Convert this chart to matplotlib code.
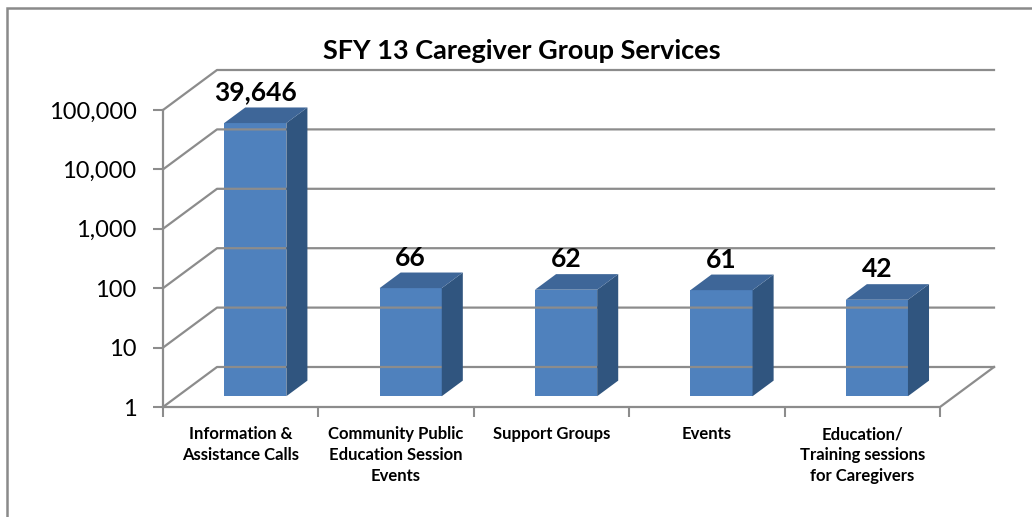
import numpy as np
import matplotlib
matplotlib.use("Agg")
import matplotlib.pyplot as plt
from matplotlib.patches import Polygon, Rectangle
from matplotlib.transforms import offset_copy

plt.rcParams["font.family"] = ["Lato", "DejaVu Sans"]

categories = [
    "Information &\nAssistance Calls",
    "Community Public\nEducation Session\nEvents",
    "Support Groups",
    "Events",
    "Education/\nTraining sessions\nfor Caregivers",
]
values = [39646, 66, 62, 61, 42]
value_labels = ["39,646", "66", "62", "61", "42"]
y_ticks = [1, 10, 100, 1000, 10000, 100000]
y_tick_labels = ["1", "10", "100", "1,000", "10,000", "100,000"]
title = "SFY 13 Caregiver Group Services"

W, H = 1032, 517
fig = plt.figure(figsize=(W / 100, H / 100), dpi=100)

# front plane of the 3D box, in pixels
left, right, bottom, top = 163, 940, 407, 110
ax = fig.add_axes([left / W, 1 - bottom / H, (right - left) / W, (bottom - top) / H])
ax.set_yscale("log")
ax.set_xlim(0, len(categories))
ax.set_ylim(1, 100000)
ax.patch.set_visible(False)
for s in ax.spines.values():
    s.set_visible(False)

DX, DY = 54, 40          # depth offset of back wall (pixels)
F0, F1 = 0.27, 0.66      # bar front / back depth fraction
grid_c = "#8c8c8c"
front_c, top_c, side_c = "#4f81bd", "#3e6698", "#30557f"

to_fig = fig.transFigure.inverted()


def proj(x, y, d):
    px, py = ax.transData.transform((x, y))
    return to_fig.transform((px + d * DX, py + d * DY))


def line3d(pts, **kw):
    xy = np.array([proj(*p) for p in pts])
    fig.add_artist(plt.Line2D(xy[:, 0], xy[:, 1], transform=fig.transFigure, **kw))


n = len(categories)
lw = 1.6
# back wall gridlines + left wall diagonals
for yv in y_ticks:
    line3d([(0, yv, 0), (0, yv, 1), (n, yv, 1)], color=grid_c, lw=lw, zorder=1)
# floor
line3d([(0, 1, 0), (n, 1, 0), (n, 1, 1)], color=grid_c, lw=lw, zorder=1)
# front vertical axis
line3d([(0, 1, 0), (0, 100000, 0)], color=grid_c, lw=lw, zorder=1)

# ticks
ax.set_yticks(y_ticks)
ax.set_yticklabels(y_tick_labels, fontsize=17)
ax.yaxis.set_minor_locator(matplotlib.ticker.NullLocator())
ax.tick_params(axis="y", length=7, width=1.5, color=grid_c, pad=12)
ax.set_xticks(np.arange(n + 1))
ax.set_xticklabels([])
ax.tick_params(axis="x", length=7, width=1.5, color=grid_c)
ax.set_xticks(np.arange(n) + 0.5, minor=True)
ax.set_xticklabels(categories, minor=True, fontsize=12, fontweight="bold",
                   linespacing=1.35, va="top")
ax.tick_params(axis="x", which="minor", length=0, pad=14)

# bars
bw = 0.4
x = np.arange(n) + 0.5
front_tr = offset_copy(ax.transData, fig=fig, x=F0 * DX, y=F0 * DY, units="dots")
for xi, v, lab in zip(x, values, value_labels):
    x0, x1 = xi - bw / 2, xi + bw / 2
    top_face = [proj(x0, v, F0), proj(x1, v, F0), proj(x1, v, F1), proj(x0, v, F1)]
    side_face = [proj(x1, 1, F0), proj(x1, v, F0), proj(x1, v, F1), proj(x1, 1, F1)]
    fig.add_artist(Polygon(side_face, closed=True, facecolor=side_c, edgecolor="none",
                           transform=fig.transFigure, zorder=3))
    fig.add_artist(Polygon(top_face, closed=True, facecolor=top_c, edgecolor="none",
                           transform=fig.transFigure, zorder=3))
    ax.bar(xi, v - 1, bottom=1, width=bw, color=front_c, transform=front_tr,
           zorder=4, clip_on=False)
    lx, ly = proj(xi, v, F0)
    _, ly2 = proj(xi, v, F1)
    fig.text(lx, ly2 + 3 / H, lab, ha="center", va="bottom", fontsize=19,
             fontweight="bold", zorder=5)

fig.text(522 / W, 1 - 51 / H, title, ha="center", va="center", fontsize=19.5,
         fontweight="bold")

# outer chart frame
fig.add_artist(Rectangle((7 / W, -0.1), 1.2, 1.1 - 8 / H, transform=fig.transFigure,
                         fill=False, edgecolor="#8a8a8a", lw=1.8))

fig.savefig("out.png", dpi=100)
